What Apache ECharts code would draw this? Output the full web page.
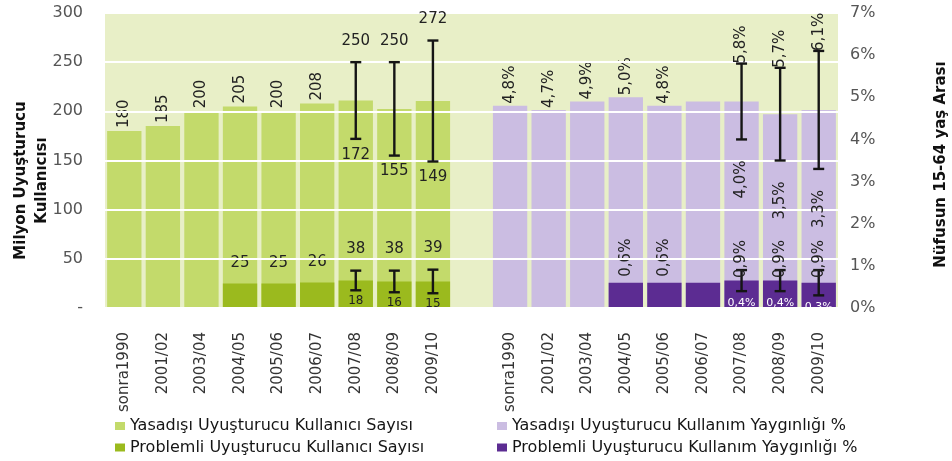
<!DOCTYPE html>
<html>
<head>
<meta charset="utf-8">
<script src="https://cdn.jsdelivr.net/npm/echarts@6/dist/echarts.min.js"></script>
<style>
html, body { margin: 0; padding: 0; background: #fff; }
#chart { width: 952px; height: 461px; }
</style>
</head>
<body>
<div id="chart"></div>
<script>
// Dönemler (her iki grup için aynı)
const years = ['sonra1990', '2001/02', '2003/04', '2004/05', '2005/06', '2006/07', '2007/08', '2008/09', '2009/10']

// Milyon kullanıcı (sol eksen)
const usersTotal = [180, 185, 200, 205, 200, 208, 211, 202.5, 210.5]
const usersLow = [null, null, null, null, null, null, 172, 155, 149]
const usersHigh = [null, null, null, null, null, null, 250, 250, 272]
const problemUsers = [null, null, null, 25, 25, 26, 28, 27, 27]
const problemLow = [null, null, null, null, null, null, 18, 16, 15]
const problemHigh = [null, null, null, null, null, null, 38, 38, 39]

// Yaygınlık % (sag eksen)
const prevTotal = [4.8, 4.7, 4.9, 5.0, 4.8, 4.9, 4.9, 4.6, 4.7]
const prevLow = [null, null, null, null, null, null, 4.0, 3.5, 3.3]
const prevHigh = [null, null, null, null, null, null, 5.8, 5.7, 6.1]
const problemPrev = [null, null, null, 0.6, 0.6, 0.6, 0.65, 0.65, 0.6]
const problemPrevLow = [null, null, null, null, null, null, 0.4, 0.4, 0.3]
const problemPrevHigh = [null, null, null, null, null, null, 0.9, 0.9, 0.9]
// 2006/07 yüzdelerinde etiket yok
const prevLabelShown = [true, true, true, true, true, false, false, false, false]

// Eksen işaretleri
const leftTicks = [0, 50, 100, 150, 200, 250, 300]
const rightTicks = [0, 1, 2, 3, 4, 5, 6, 7]

const legendLeft = ['Yasadışı Uyuşturucu Kullanıcı Sayısı', 'Problemli Uyuşturucu Kullanıcı Sayısı']
const legendRight = ['Yasadışı Uyuşturucu Kullanım Yaygınlığı %', 'Problemli Uyuşturucu Kullanım Yaygınlığı %']

const categories = [...years, '', ...years]
const FONT = '"DejaVu Sans", Verdana, sans-serif'
const pct = (v) => v.toFixed(1).replace('.', ',') + '%'

const pad = (n) => Array(n).fill(null)
const toLeft = (arr) => [...arr, null, ...pad(years.length)]
const toRight = (arr) => [...pad(years.length + 1), ...arr]

// etiket sadece hata çubuğu olmayan sütunlarda
function barData(values, slot, showFn) {
  return slot(values.map((v, i) => (v == null ? null : {
    value: v,
    label: { show: showFn(i) }
  })))
}

function rangeData(low, high, offset) {
  let out = []
  low.forEach((lo, i) => {
    if (lo != null) out.push([i + offset, lo, high[i]])
  })
  return out
}

// hata çubuğu + üst/alt etiketleri
function errorBar(opt) {
  return function (params, api) {
    const x = api.value(0)
    const lo = api.value(1)
    const hi = api.value(2)
    const pHi = api.coord([x, hi])
    const pLo = api.coord([x, lo])
    const hw = 5.5
    const line = { stroke: '#151515', lineWidth: 2.4 }
    const fmt = opt.format || ((v) => String(v))
    return {
      type: 'group',
      children: [
        { type: 'line', shape: { x1: pHi[0], y1: pHi[1], x2: pLo[0], y2: pLo[1] }, style: line },
        { type: 'line', shape: { x1: pHi[0] - hw, y1: pHi[1], x2: pHi[0] + hw, y2: pHi[1] }, style: line },
        { type: 'line', shape: { x1: pLo[0] - hw, y1: pLo[1], x2: pLo[0] + hw, y2: pLo[1] }, style: line },
        {
          type: 'text',
          x: pHi[0],
          y: pHi[1] + opt.hiDy,
          rotation: opt.hiRot ? Math.PI / 2 : 0,
          style: Object.assign({ text: fmt(hi), fill: '#222', font: '15px ' + FONT }, opt.hiStyle)
        },
        {
          type: 'text',
          x: pLo[0],
          y: pLo[1] + opt.loDy,
          rotation: opt.loRot ? Math.PI / 2 : 0,
          style: Object.assign({ text: fmt(lo), fill: '#222', font: '15px ' + FONT }, opt.loStyle)
        }
      ]
    }
  }
}

const chart = echarts.init(document.getElementById('chart'))

const labelUp = {
  position: 'top',
  rotate: 90,
  align: 'left',
  verticalAlign: 'middle',
  fontSize: 15,
  fontFamily: FONT,
  color: '#222'
}

const barCommon = {
  type: 'bar',
  barGap: '-100%',
  barCategoryGap: '11%'
}

const legendCommon = {
  orient: 'vertical',
  top: 413,
  height: 60,
  icon: 'rect',
  itemWidth: 10,
  itemHeight: 8,
  itemGap: 5.5,
  selectedMode: false,
  textStyle: { fontSize: 16, fontFamily: FONT, color: '#151515' }
}

const option = {
  animation: false,
  color: ['#c3da6b', '#9bba1e', '#cbbde2', '#5c2c92'],
  grid: {
    left: 105,
    right: 114,
    top: 13,
    bottom: 153,
    outerBoundsMode: 'none',
    show: true,
    backgroundColor: '#e8efc7',
    borderWidth: 0
  },
  legend: [
    Object.assign({}, legendCommon, { data: legendLeft, left: 110 }),
    Object.assign({}, legendCommon, { data: legendRight, left: 492 })
  ],
  xAxis: {
    type: 'category',
    data: categories,
    axisLine: { show: false },
    axisTick: { show: false },
    axisLabel: {
      interval: 0,
      rotate: 90,
      margin: 24,
      fontSize: 15,
      fontFamily: FONT,
      color: '#333'
    }
  },
  yAxis: [
    {
      type: 'value',
      min: leftTicks[0],
      max: leftTicks[leftTicks.length - 1],
      interval: leftTicks[1] - leftTicks[0],
      z: 3,
      name: 'Milyon Uyuşturucu\nKullanıcısı',
      nameLocation: 'middle',
      nameRotate: 90,
      nameGap: 52,
      nameMoveOverlap: false,
      nameTextStyle: {
        fontSize: 15,
        fontWeight: 'bold',
        fontFamily: FONT,
        color: '#111',
        lineHeight: 21,
        padding: [0, 40, 0, 0]
      },
      axisLine: { show: false },
      axisTick: { show: false },
      splitLine: { lineStyle: { color: '#ffffff', width: 2 } },
      axisLabel: {
        margin: 22,
        fontSize: 16,
        fontFamily: FONT,
        color: '#555',
        formatter: (v) => (v === 0 ? '-' : String(v))
      }
    },
    {
      type: 'value',
      min: rightTicks[0],
      max: rightTicks[rightTicks.length - 1],
      interval: rightTicks[1] - rightTicks[0],
      position: 'right',
      name: 'Nüfusun 15-64 yaş Arası',
      nameLocation: 'middle',
      nameRotate: 90,
      nameGap: 96,
      nameTextStyle: {
        fontSize: 15,
        fontWeight: 'bold',
        fontFamily: FONT,
        color: '#111',
        padding: [0, 8, 0, 0]
      },
      axisLine: { show: false },
      axisTick: { show: false },
      splitLine: { show: false },
      axisLabel: {
        margin: 12,
        fontSize: 16,
        fontFamily: FONT,
        color: '#555',
        formatter: (v) => v + '%'
      }
    }
  ],
  series: [
    Object.assign({}, barCommon, {
      name: legendLeft[0],
      yAxisIndex: 0,
      label: Object.assign({}, labelUp, { distance: 3 }),
      data: barData(usersTotal, toLeft, (i) => usersLow[i] == null)
    }),
    Object.assign({}, barCommon, {
      name: legendLeft[1],
      yAxisIndex: 0,
      label: {
        position: 'top',
        distance: 13,
        fontSize: 15,
        fontFamily: FONT,
        color: '#222'
      },
      data: barData(problemUsers, toLeft, (i) => problemLow[i] == null)
    }),
    Object.assign({}, barCommon, {
      name: legendRight[0],
      yAxisIndex: 1,
      label: Object.assign({}, labelUp, { distance: 2, formatter: (p) => pct(p.value) }),
      data: barData(prevTotal, toRight, (i) => prevLabelShown[i] && prevLow[i] == null)
    }),
    Object.assign({}, barCommon, {
      name: legendRight[1],
      yAxisIndex: 1,
      label: Object.assign({}, labelUp, { distance: 6, formatter: (p) => pct(p.value) }),
      data: barData(problemPrev, toRight, (i) => prevLabelShown[i] && problemPrevLow[i] == null)
    }),
    {
      type: 'custom',
      yAxisIndex: 0,
      z: 10,
      renderItem: errorBar({
        hiDy: -21, loDy: 16,
        hiStyle: { align: 'center', verticalAlign: 'middle' },
        loStyle: { align: 'center', verticalAlign: 'middle' }
      }),
      data: rangeData(usersLow, usersHigh, 0)
    },
    {
      type: 'custom',
      yAxisIndex: 0,
      z: 10,
      renderItem: errorBar({
        hiDy: -22, loDy: 11,
        hiStyle: { align: 'center', verticalAlign: 'middle' },
        loStyle: { align: 'center', verticalAlign: 'middle', font: '12px ' + FONT }
      }),
      data: rangeData(problemLow, problemHigh, 0)
    },
    {
      type: 'custom',
      yAxisIndex: 1,
      z: 10,
      renderItem: errorBar({
        format: pct,
        hiDy: 0, loDy: 21, hiRot: true, loRot: true,
        hiStyle: { align: 'left', verticalAlign: 'middle' },
        loStyle: { align: 'right', verticalAlign: 'middle' }
      }),
      data: rangeData(prevLow, prevHigh, years.length + 1)
    },
    {
      type: 'custom',
      yAxisIndex: 1,
      z: 10,
      renderItem: errorBar({
        format: pct,
        hiDy: 8, loDy: 12, hiRot: true, loRot: false,
        hiStyle: { align: 'left', verticalAlign: 'middle' },
        loStyle: { align: 'center', verticalAlign: 'middle', fill: '#fff', font: '11px ' + FONT }
      }),
      data: rangeData(problemPrevLow, problemPrevHigh, years.length + 1)
    }
  ]
}

chart.setOption(option)
</script>
</body>
</html>
